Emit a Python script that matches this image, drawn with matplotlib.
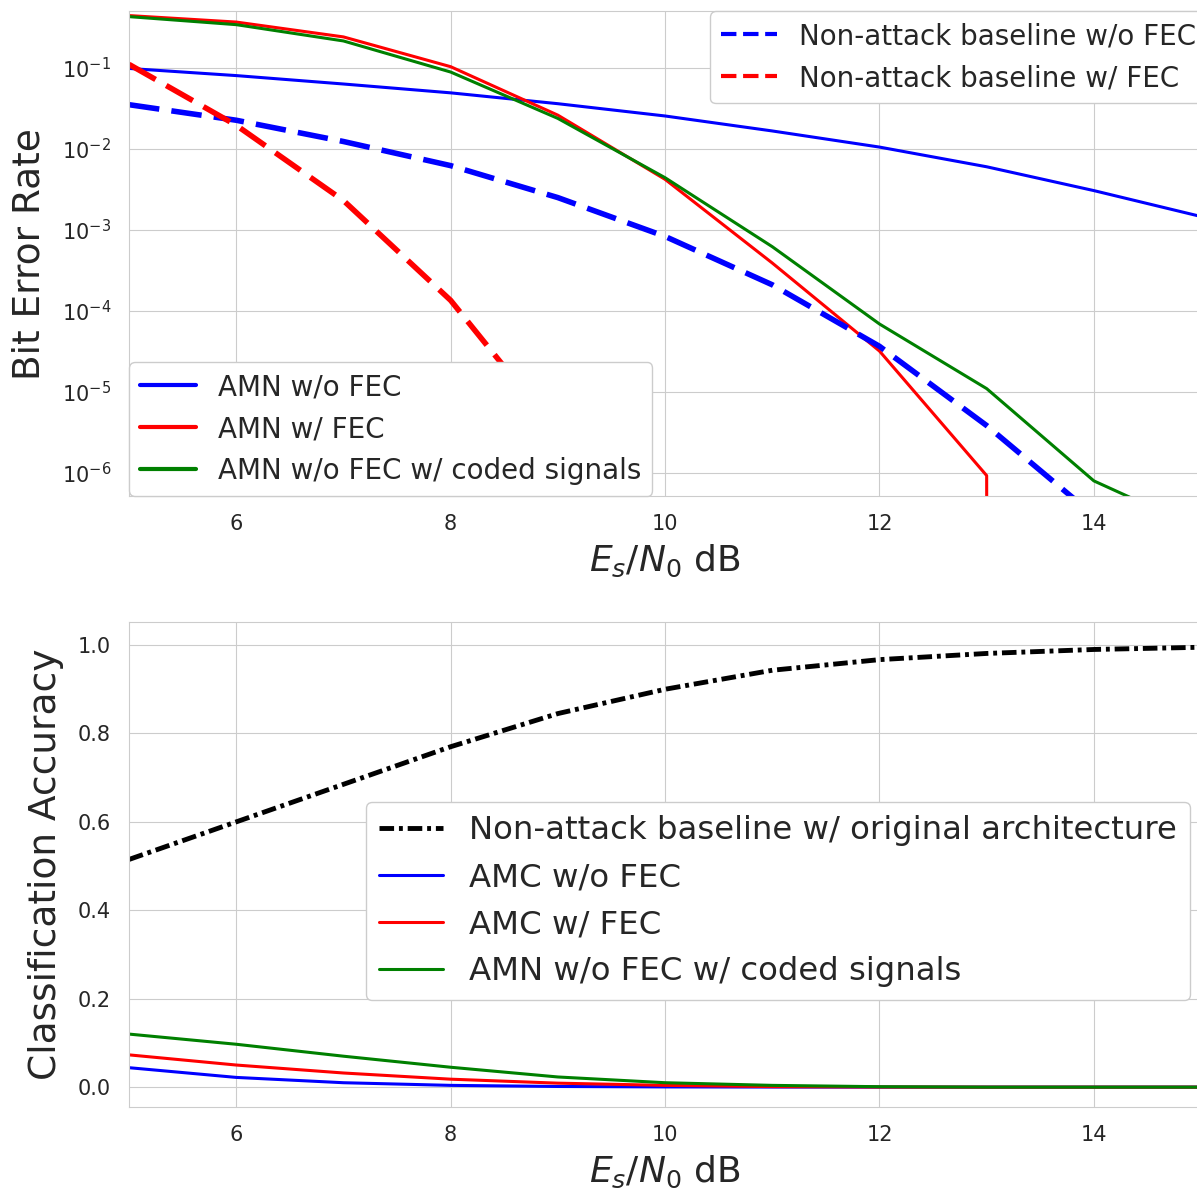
import numpy as np
import matplotlib
matplotlib.use('Agg')
import matplotlib.pyplot as plt
from matplotlib.lines import Line2D
import seaborn as sns

sns.set_style("whitegrid", {'grid.linewidth': 1.4, 'axes.linewidth': 1.5})

# Es/N0 in dB
snr = [5, 6, 7, 8, 9, 10, 11, 12, 13, 14, 15]

# bit error rate (top panel)
ber_amn_nofec = [0.098, 0.080, 0.063, 0.049, 0.036, 0.0254, 0.0166, 0.0105, 0.0060, 0.00305, 0.00146]
ber_amn_fec = [0.44, 0.366, 0.24, 0.103, 0.026, 0.0042, 0.00039, 3.2e-5, 9.3e-7, 0, 0]
ber_amn_coded = [0.427, 0.34, 0.214, 0.0885, 0.0237, 0.0044, 0.00062, 6.9e-5, 1.1e-5, 8e-7, 2e-7]
ber_base_nofec = [0.035, 0.0225, 0.0123, 0.0062, 0.0025, 0.00083, 0.00021, 3.66e-5, 3.85e-6, 3.0e-7, 0]
ber_base_fec = [0.11, 0.0195, 0.0023, 0.000135, 3.1e-6, 0, 0, 0, 0, 0, 0]

# classification accuracy (bottom panel)
acc_base = [0.515, 0.600, 0.685, 0.770, 0.845, 0.900, 0.943, 0.967, 0.981, 0.990, 0.995]
acc_amc_nofec = [0.044, 0.022, 0.010, 0.004, 0.0015, 0.0005, 0.0002, 0, 0, 0, 0]
acc_amc_fec = [0.073, 0.050, 0.032, 0.018, 0.009, 0.004, 0.0012, 0.0002, 0, 0, 0]
acc_amn_coded = [0.120, 0.097, 0.070, 0.045, 0.023, 0.010, 0.004, 0.001, 0, 0, 0]

fig = plt.figure(figsize=(11.97, 11.91), dpi=100)
ax1 = fig.add_axes([0.1078, 0.5835, 0.8956, 0.4072])
ax2 = fig.add_axes([0.1078, 0.0705, 0.8956, 0.4072])

# top: BER
ax1.plot(snr, ber_amn_nofec, color='blue', lw=2.2)
ax1.plot(snr, ber_amn_fec, color='red', lw=2.2)
ax1.plot(snr, ber_amn_coded, color='green', lw=2.2)
ax1.plot(snr, ber_base_nofec, color='blue', lw=4, dashes=(5.5, 2.2))
ax1.plot(snr, ber_base_fec, color='red', lw=4, dashes=(5.5, 2.2))
ax1.set_yscale('log')
ax1.set_xlim(5, 15)
ax1.set_ylim(5.2e-7, 0.5)
ax1.set_xticks([6, 8, 10, 12, 14])
ax1.set_yticks([1e-6, 1e-5, 1e-4, 1e-3, 1e-2, 1e-1])
ax1.minorticks_off()
ax1.tick_params(labelsize=15, pad=9.5)
ax1.set_ylabel('Bit Error Rate', fontsize=27, labelpad=10)
ax1.set_xlabel('$E_s/N_0$ dB', fontsize=26, labelpad=6)

h_solid = [Line2D([], [], color=c, lw=3) for c in ['blue', 'red', 'green']]
leg1 = ax1.legend(h_solid, ['AMN w/o FEC', 'AMN w/ FEC', 'AMN w/o FEC w/ coded signals'],
                  loc='lower left', fontsize=20, borderaxespad=0, framealpha=1)
ax1.add_artist(leg1)
h_dash = [Line2D([], [], color=c, lw=3, ls='--') for c in ['blue', 'red']]
ax1.legend(h_dash, ['Non-attack baseline w/o FEC', 'Non-attack baseline w/ FEC'],
           loc='upper right', fontsize=20, borderaxespad=0, framealpha=1,
           bbox_to_anchor=(1.006, 1.0))

# bottom: accuracy
ax2.plot(snr, acc_base, color='black', lw=3.5, dashes=(3, 1, 0.8, 1),
         label='Non-attack baseline w/ original architecture')
ax2.plot(snr, acc_amc_nofec, color='blue', lw=2.2, label='AMC w/o FEC')
ax2.plot(snr, acc_amc_fec, color='red', lw=2.2, label='AMC w/ FEC')
ax2.plot(snr, acc_amn_coded, color='green', lw=2.2, label='AMN w/o FEC w/ coded signals')
ax2.set_xlim(5, 15)
ax2.set_ylim(-0.045, 1.052)
ax2.set_xticks([6, 8, 10, 12, 14])
ax2.set_yticks([0.0, 0.2, 0.4, 0.6, 0.8, 1.0])
ax2.tick_params(labelsize=15, pad=9.5)
ax2.set_ylabel('Classification Accuracy', fontsize=27, labelpad=10)
ax2.set_xlabel('$E_s/N_0$ dB', fontsize=26, labelpad=6)
ax2.legend(loc='upper right', fontsize=23.3, framealpha=1,
           bbox_to_anchor=(0.9897, 0.629), borderaxespad=0)

fig.savefig('out.png', dpi=100)
